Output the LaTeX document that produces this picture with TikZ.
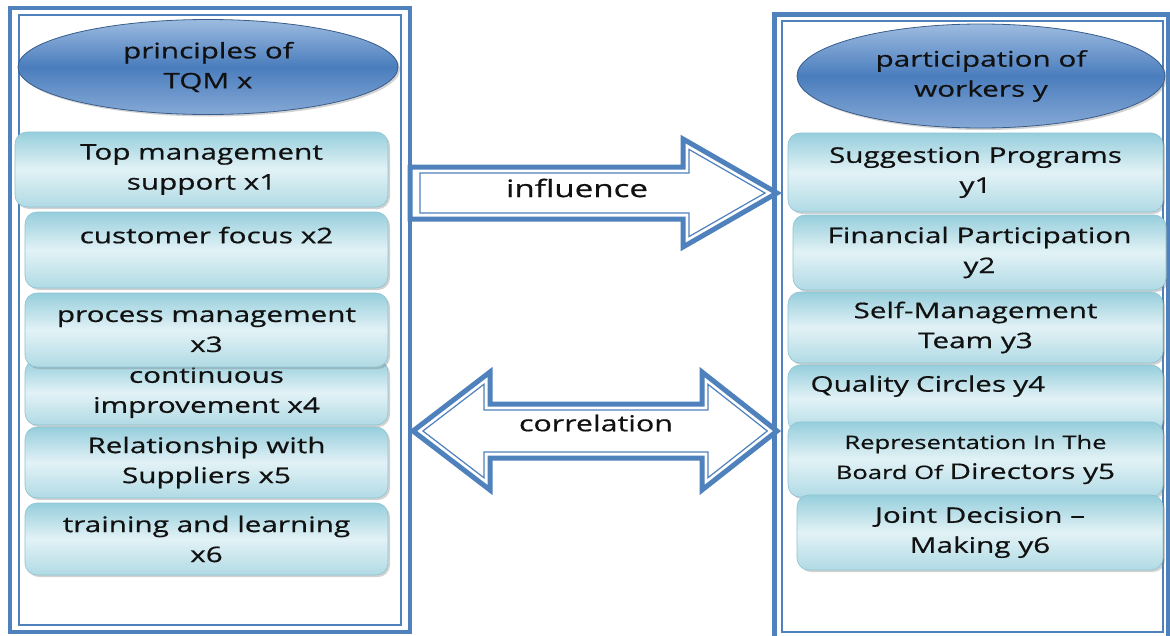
\documentclass[tikz,border=0pt]{standalone}
\usepackage{fontspec}
\setmainfont[FakeStretch=1.38,FakeBold=0.6]{Open Sans}
\usetikzlibrary{shapes.geometric,shadows}
\definecolor{frameblue}{HTML}{4F81BD}
\definecolor{ellborder}{HTML}{385D8A}
\definecolor{elltop}{HTML}{9DBBE0}
\definecolor{ellmid}{HTML}{4A7DBD}
\definecolor{ellbot}{HTML}{86A9D6}
\definecolor{boxedge}{HTML}{96CEDC}
\definecolor{boxmid}{HTML}{E2F2F6}
\definecolor{boxline}{HTML}{8CC3D1}
\definecolor{txt}{HTML}{111111}
\tikzset{
  item/.style={rectangle, rounded corners=12pt, draw=boxline, line width=0.6pt,
    top color=boxedge, bottom color=boxedge!75, middle color=boxmid,
    drop shadow={shadow xshift=2pt, shadow yshift=-2pt, opacity=0.35},
    align=center, text=txt, font=\fontsize{21.5}{30}\selectfont},
  head/.style={ellipse, draw=ellborder, line width=0.8pt,
    top color=elltop, bottom color=ellbot, middle color=ellmid,
    drop shadow={shadow xshift=2pt, shadow yshift=-2pt, opacity=0.35},
    align=center, text=txt, font=\fontsize{21.5}{30}\selectfont},
  blockarrow/.style={draw=frameblue, line width=5pt, fill=white, line join=miter},
  innerline/.style={draw=frameblue, line width=1.2pt, line join=miter},
  label/.style={text=txt}
}
\begin{document}
\begin{tikzpicture}[x=1pt,y=-1pt]
\useasboundingbox[fill=white] (0,0) rectangle (1170,635);

% frames
\draw[frameblue, line width=4pt] (10,8) rectangle (410,632);
\draw[frameblue, line width=1.2pt] (19,15) rectangle (401,625);
\draw[frameblue, line width=5pt] (774,14) rectangle (1168,640);
\draw[frameblue, line width=1.2pt] (782,21) rectangle (1163,632);

% left column
\node[head, minimum width=380pt, minimum height=95pt] (tqm) at (208,67) {principles of\\TQM x};
\node[item, minimum width=373pt, minimum height=75pt] (x1) at (201.5,169.5) {Top management\\support x1};
\node[item, minimum width=363pt, minimum height=76pt] (x2) at (206.5,250) {customer focus x2\\\mbox{}};
\node[item, minimum width=363pt, minimum height=65pt] (x4) at (206.5,392.5) {continuous\\improvement x4};
\node[item, minimum width=363pt, minimum height=74pt] (x3) at (206.5,330) {process management\\x3};
\node[item, minimum width=363pt, minimum height=71pt] (x5) at (206.5,462.5) {Relationship with\\Suppliers x5};
\node[item, minimum width=363pt, minimum height=72pt] (x6) at (206.5,539) {training and learning\\x6};

% right column
\node[head, minimum width=368pt, minimum height=104pt] (pw) at (981,76) {participation of\\workers y};
\node[item, minimum width=375pt, minimum height=79pt] (y1) at (975.5,172.5) {Suggestion Programs\\y1};
\node[item, minimum width=373pt, minimum height=75pt] (y2) at (979.5,252.5) {Financial Participation\\y2};
\node[item, minimum width=375pt, minimum height=71pt] (y3) at (975.5,327.5) {Self-Management\\Team y3};
\node[item, minimum width=375pt, minimum height=67pt, text width=330pt, align=left] (y4) at (975.5,398.5) {Quality Circles y4\\\mbox{}};
\node[item, minimum width=375pt, minimum height=75pt] (y5) at (975.5,459.5) {{\fontsize{18.5}{30}\selectfont Representation In The}\\{\fontsize{18.5}{30}\selectfont Board Of }Directors y5};
\node[item, minimum width=366pt, minimum height=75pt] (y6) at (980,532.5) {Joint Decision --\\Making y6};

% influence
\draw[blockarrow] (410,167) -- (683,167) -- (683,139) -- (777,193) -- (683,247) -- (683,219) -- (410,219) -- cycle;
\draw[innerline] (420,173) -- (689,173) -- (689,149.4) -- (765,193) -- (689,236.6) -- (689,213) -- (420,213) -- cycle;
\node[label, font=\fontsize{24}{28}\selectfont] (infl) at (577,188) {influence};

% correlation
\draw[blockarrow] (413,431) -- (490,372) -- (490,404) -- (702,404) -- (702,372) -- (777,431) -- (702,490) -- (702,458) -- (490,458) -- (490,490) -- cycle;
\draw[innerline] (422.9,431) -- (484,384.2) -- (484,410) -- (708,410) -- (708,384.3) -- (767.3,431) -- (708,477.7) -- (708,452) -- (484,452) -- (484,477.8) -- cycle;
\node[label, font=\fontsize{22}{26}\selectfont] (corr) at (596,423) {correlation};
\end{tikzpicture}
\end{document}
